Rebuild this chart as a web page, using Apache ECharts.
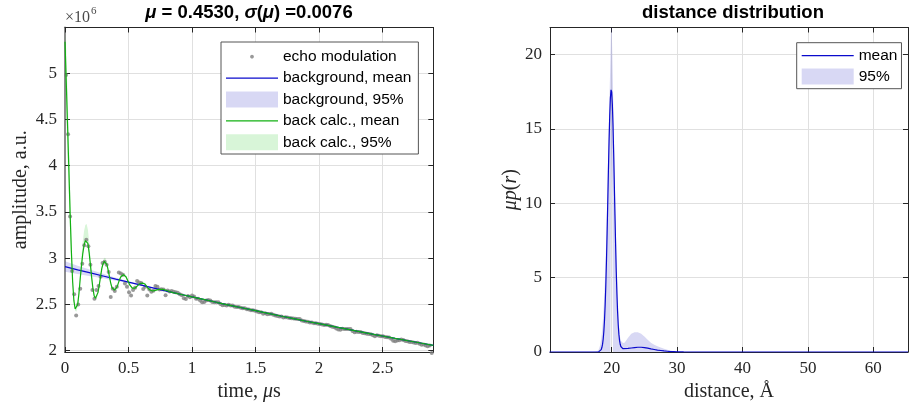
<!DOCTYPE html>
<html><head><meta charset="utf-8">
<script src="https://cdn.jsdelivr.net/npm/echarts@6/dist/echarts.min.js"></script>
<style>html,body{margin:0;padding:0;background:#fff}#c{width:909px;height:407px}</style>
</head><body><div id="c"></div>
<script>
// ---------- left panel: echo modulation (values in 1e6 a.u.) ----------
const dotT = [0.008,0.024,0.040,0.056,0.072,0.088,0.104,0.120,0.136,0.152,0.168,0.184,0.200,0.216,0.232,0.248,0.264,0.280,0.296,0.312,0.328,0.344,0.360,0.376,0.392,0.408,0.424,0.440,0.456,0.472,0.488,0.504,0.520,0.536,0.552,0.568,0.584,0.600,0.616,0.632,0.648,0.664,0.680,0.696,0.712,0.728,0.744,0.760,0.776,0.792,0.808,0.824,0.840,0.856,0.872,0.888,0.904,0.920,0.936,0.952,0.968,0.984,1.000,1.016,1.032,1.048,1.064,1.080,1.096,1.112,1.128,1.144,1.160,1.176,1.192,1.208,1.224,1.240,1.256,1.272,1.288,1.304,1.320,1.336,1.352,1.368,1.384,1.400,1.416,1.432,1.448,1.464,1.480,1.496,1.512,1.528,1.544,1.560,1.576,1.592,1.608,1.624,1.640,1.656,1.672,1.688,1.704,1.720,1.736,1.752,1.768,1.784,1.800,1.816,1.832,1.848,1.864,1.880,1.896,1.912,1.928,1.944,1.960,1.976,1.992,2.008,2.024,2.040,2.056,2.072,2.088,2.104,2.120,2.136,2.152,2.168,2.184,2.200,2.216,2.232,2.248,2.264,2.280,2.296,2.312,2.328,2.344,2.360,2.376,2.392,2.408,2.424,2.440,2.456,2.472,2.488,2.504,2.520,2.536,2.552,2.568,2.584,2.600,2.616,2.632,2.648,2.664,2.680,2.696,2.712,2.728,2.744,2.760,2.776,2.792,2.808,2.824,2.840,2.856,2.872,2.888];
const dotV = [4.98,4.34,3.45,2.86,2.61,2.38,2.50,2.67,2.94,3.14,
3.20,3.13,2.93,2.655,2.56,2.655,2.70,2.80,2.949,2.96,
2.93,2.85,2.58,2.67,2.644,2.69,2.845,2.834,2.82,2.727,
2.69,2.63,2.595,2.655,2.68,2.752,2.737,2.73,2.666,2.69,
2.595,2.66,2.637,2.648,2.70,2.69,2.662,2.665,2.66,2.60,
2.65,2.64,2.644,2.637,2.63,2.627,2.609,2.60,2.566,2.558,
2.59,2.576,2.595,2.586,2.561,2.562,2.542,2.523,2.527,2.542,
2.548,2.542,2.527,2.523,2.522,2.523,2.503,2.49,2.493,2.487,
2.497,2.487,2.488,2.474,2.471,2.472,2.464,2.458,2.458,2.448,
2.444,2.436,2.436,2.43,2.423,2.416,2.415,2.40,2.404,2.394,
2.397,2.398,2.387,2.379,2.375,2.37,2.37,2.359,2.36,2.358,
2.352,2.35,2.348,2.346,2.343,2.343,2.327,2.32,2.314,2.312,
2.305,2.305,2.297,2.295,2.29,2.288,2.282,2.278,2.28,2.278,
2.266,2.258,2.253,2.238,2.228,2.226,2.237,2.235,2.235,2.234,
2.234,2.212,2.198,2.205,2.2,2.2,2.191,2.188,2.182,2.18,
2.178,2.165,2.155,2.165,2.162,2.155,2.155,2.148,2.145,2.142,
2.128,2.106,2.10,2.11,2.112,2.12,2.114,2.105,2.10,2.093,
2.094,2.088,2.082,2.084,2.074,2.064,2.066,2.054,2.047,2.054,1.975];

const bgT  = [0,0.1,0.2,0.3,0.4,0.5,0.6,0.7,0.8,0.9,1.0,1.1,1.2,1.3,1.4,1.5,1.6,1.7,1.8,1.9,2.0,2.1,2.2,2.3,2.4,2.5,2.6,2.7,2.8,2.9];
const bgV  = [2.909,2.874,2.840,2.807,2.773,2.740,2.708,2.676,2.644,2.612,2.581,2.551,2.520,2.490,2.461,2.432,2.403,2.374,2.346,2.318,2.291,2.264,2.237,2.210,2.184,2.158,2.132,2.107,2.082,2.057];
const bgHi = [2.966,2.919,2.875,2.832,2.789,2.750,2.714,2.680,2.647,2.615,2.584,2.554,2.523,2.493,2.464,2.435,2.406,2.377,2.349,2.321,2.294,2.267,2.240,2.213,2.187,2.161,2.135,2.110,2.085,2.060];
const bgLo = [2.852,2.829,2.805,2.782,2.757,2.730,2.702,2.672,2.641,2.609,2.578,2.548,2.517,2.487,2.458,2.429,2.400,2.371,2.343,2.315,2.288,2.261,2.234,2.207,2.181,2.155,2.129,2.104,2.079,2.054];

const fitT = [0,0.01,0.02,0.03,0.04,0.05,0.06,0.07,0.08,0.09,0.10,0.11,0.12,0.13,0.14,0.15,0.16,0.17,0.18,0.19,0.20,0.21,0.22,0.23,0.24,0.25,0.26,0.27,0.28,0.29,0.30,0.31,0.32,0.33,0.34,0.35,0.36,0.37,0.38,0.39,0.40,0.41,0.42,0.43,0.44,0.45,0.46,0.47,0.48,0.49,0.50,0.51,0.52,0.53,0.54,0.55,0.56,0.57,0.58,0.59,0.60,0.61,0.62,0.63,0.64,0.65,0.66,0.67,0.68,0.69,0.70,0.71,0.72,0.73,0.74,0.75,0.76,0.77,0.78,0.79,0.80,0.81,0.82,0.83,0.84,0.85,0.86,0.87,0.88,0.89,0.90,1.0,1.1,1.2,1.3,1.4,1.5,1.6,1.7,1.8,1.9,2.0,2.1,2.2,2.3,2.4,2.5,2.6,2.7,2.8,2.9];
const fitV = [5.34,4.90,4.44,3.98,3.50,3.08,2.75,2.54,2.45,2.44,
2.50,2.62,2.78,2.92,3.05,3.14,3.19,3.20,3.16,3.06,
2.93,2.79,2.67,2.59,2.566,2.58,2.63,2.71,2.80,2.89,
2.94,2.965,2.96,2.93,2.87,2.80,2.73,2.68,2.66,2.655,
2.66,2.69,2.73,2.77,2.80,2.815,2.82,2.816,2.80,2.77,
2.74,2.71,2.69,2.675,2.673,2.675,2.685,2.70,2.715,2.725,
2.73,2.73,2.727,2.72,2.70,2.68,2.665,2.655,2.648,2.645,
2.648,2.652,2.656,2.66,2.662,2.664,2.665,2.663,2.66,2.655,
2.65,2.645,2.64,2.635,2.63,2.627,2.624,2.621,2.618,2.615,2.612,
2.581,2.551,2.520,2.490,2.461,2.432,2.403,2.374,2.346,2.318,2.291,2.264,2.237,2.210,2.184,2.158,2.132,2.107,2.082,2.057];
const fitHi = [5.42,5.25,4.79,4.33,3.78,3.24,2.82,2.57,2.47,2.46,
2.52,2.66,2.85,3.02,3.18,3.29,3.36,3.37,3.31,3.18,
3.01,2.84,2.70,2.61,2.586,2.60,2.65,2.73,2.83,2.92,
2.98,3.005,3.00,2.96,2.89,2.82,2.745,2.695,2.675,2.67,
2.675,2.705,2.745,2.785,2.815,2.83,2.835,2.831,2.815,2.785,
2.75,2.72,2.70,2.685,2.683,2.685,2.695,2.71,2.725,2.735,
2.74,2.74,2.737,2.73,2.71,2.69,2.675,2.665,2.658,2.655,
2.658,2.662,2.666,2.67,2.672,2.674,2.675,2.673,2.67,2.665,
2.66,2.655,2.65,2.645,2.64,2.637,2.634,2.631,2.628,2.625,2.622,
2.586,2.556,2.525,2.495,2.466,2.437,2.408,2.379,2.351,2.323,2.296,2.269,2.242,2.215,2.189,2.163,2.137,2.112,2.087,2.062];
const fitLo = [4.99,4.55,4.09,3.68,3.28,2.96,2.70,2.51,2.43,2.42,
2.48,2.60,2.76,2.90,3.03,3.12,3.17,3.18,3.14,3.04,
2.91,2.77,2.65,2.57,2.546,2.56,2.61,2.69,2.78,2.87,
2.92,2.945,2.94,2.91,2.85,2.78,2.715,2.665,2.645,2.64,
2.645,2.675,2.715,2.755,2.785,2.80,2.805,2.801,2.785,2.755,
2.73,2.70,2.68,2.665,2.663,2.665,2.675,2.69,2.705,2.715,
2.72,2.72,2.717,2.71,2.69,2.67,2.655,2.645,2.638,2.635,
2.638,2.642,2.646,2.65,2.652,2.654,2.655,2.653,2.65,2.645,
2.64,2.635,2.63,2.625,2.62,2.617,2.614,2.611,2.608,2.605,2.602,
2.576,2.546,2.515,2.485,2.456,2.427,2.398,2.369,2.341,2.313,2.286,2.259,2.232,2.205,2.179,2.153,2.127,2.102,2.077,2.052];

// ---------- right panel: distance distribution ----------
const rDist = [10.5,12,14,16,17,17.5,17.8,
18.0,18.1,18.2,18.3,18.4,18.5,18.6,18.7,18.8,18.9,
19.0,19.1,19.2,19.3,19.4,19.5,19.6,19.7,19.8,19.9,
20.0,20.1,20.2,20.3,20.4,20.5,20.6,20.7,20.8,20.9,
21.0,21.1,21.2,21.3,21.4,21.5,21.6,21.7,21.8,
22.0,22.5,23.0,23.5,24.0,24.5,25.0,25.5,26.0,26.5,27.0,27.5,28.0,28.5,29.0,29.5,30.0,
31,32,35,40,45,50,55,60,65.3];
const pMean = [0,0,0,0,0,0.001,0.004,
0.009,0.022,0.044,0.087,0.16,0.30,0.51,0.86,1.38,2.12,
3.13,4.45,6.08,7.98,10.07,12.20,14.20,15.89,17.07,17.63,
17.49,16.67,15.26,13.43,11.35,9.22,7.20,5.40,3.91,2.72,
1.83,1.20,0.78,0.52,0.37,0.29,0.25,0.23,0.22,
0.22,0.24,0.27,0.30,0.32,0.32,0.30,0.26,0.21,0.17,0.13,0.10,0.07,0.05,0.03,0.02,0.01,
0.003,0,0,0,0,0,0,0,0];
const pHi = [0,0,0,0,0,0.01,0.05,
0.15,0.25,0.4,0.6,0.9,1.3,1.8,2.4,3.2,4.1,
5.2,6.6,8.2,10.0,12.0,14.0,16.0,17.8,19.6,21.8,
21.8,20.0,17.8,15.6,13.3,11.0,8.9,7.0,5.3,3.9,
2.8,1.9,1.3,0.95,0.78,0.7,0.65,0.62,0.61,
0.64,0.95,1.22,1.33,1.32,1.22,1.04,0.82,0.62,0.48,0.38,0.3,0.22,0.15,0.1,0.05,0.02,
0.005,0,0,0,0,0,0,0,0];
const pLo = [0,0,0,0,0,0,0,
0,0,0,0,0,0,0,0,0,0,
0,0,0,0,0,0,0,0,0,11,
13.6,10,0,0,0,0,0,0,0,0,
0,0,0,0,0,0,0,0,0,
0,0,0,0,0,0,0,0,0,0,0,0,0,0,0,0,0,
0,0,0,0,0,0,0,0,0];

// ---------- styles ----------
const SERIF = '"Liberation Serif","DejaVu Serif",serif';
const SANS = '"Liberation Sans",Arial,sans-serif';
const AX = '#262626', GRIDC = '#e0e0e0';
const BLUE = '#0a0acc', GREEN = '#12b012', GRAY = '#808080';
const BLUEBAND = 'rgba(60,60,200,0.2)', GREENBAND = 'rgba(40,200,40,0.18)';
const LINE_ICON = 'path://M0,0M52,0M52,16M0,16M0,7.4L52,7.4L52,8.6L0,8.6Z';
const DOT_ICON = 'path://M0,0M52,0M52,16M0,16M26,6L27.4,6.6L28,8L27.4,9.4L26,10L24.6,9.4L24,8L24.6,6.6Z';

const zip = (a, b) => a.map((v, i) => [v, b[i]]);

function band(name, xs, lo, hi, color, ai) {
  return {
    name, type: 'custom', xAxisIndex: ai, yAxisIndex: ai, clip: true, silent: true,
    itemStyle: { color },
    data: xs.map((x, i) => [x, lo[i], hi[i]]),
    encode: { x: 0, y: [1, 2] },
    renderItem(params, api) {
      if (params.dataIndex !== 0) return null;
      const pts = [];
      for (let i = 0; i < xs.length; i++) pts.push(api.coord([xs[i], hi[i]]));
      for (let i = xs.length - 1; i >= 0; i--) pts.push(api.coord([xs[i], lo[i]]));
      return { type: 'polygon', shape: { points: pts }, style: { fill: color } };
    }
  };
}

const labelStyle = { fontFamily: SERIF, fontSize: 17, color: AX };
const nameStyle = { fontFamily: SERIF, fontSize: 20, color: AX,
  rich: { i: { fontFamily: SERIF, fontSize: 20, fontStyle: 'italic', color: AX } } };

function mainX(grid, min, max, step, name) {
  return { gridIndex: grid, type: 'value', min, max, minInterval: step, maxInterval: step, splitNumber: 6,
    position: 'bottom',
    axisLine: { show: true, onZero: false, lineStyle: { color: AX, width: 1 } },
    axisTick: { show: true, inside: true, length: 5, lineStyle: { color: AX } },
    axisLabel: Object.assign({ margin: 8, showMinLabel: min === 0, showMaxLabel: false }, labelStyle),
    splitLine: { show: true, lineStyle: { color: GRIDC, width: 1 } },
    name, nameLocation: 'middle', nameGap: 30, nameTextStyle: nameStyle };
}
function mirrorX(grid, min, max, step) {
  return { gridIndex: grid, type: 'value', min, max, minInterval: step, maxInterval: step, splitNumber: 6,
    position: 'top',
    axisLine: { show: true, onZero: false, lineStyle: { color: AX } },
    axisTick: { show: true, inside: true, length: 5, lineStyle: { color: AX } },
    axisLabel: { show: false }, splitLine: { show: false } };
}
function mainY(grid, min, max, step, name, gap, lineColor, lineWidth) {
  return { gridIndex: grid, type: 'value', min, max, minInterval: step, maxInterval: step, splitNumber: 7,
    position: 'left',
    axisLine: { show: true, onZero: false, lineStyle: { color: lineColor, width: lineWidth } },
    axisTick: { show: true, inside: true, length: 5, lineStyle: { color: AX } },
    axisLabel: Object.assign({ margin: 8, showMinLabel: min === 0, showMaxLabel: false }, labelStyle),
    splitLine: { show: true, lineStyle: { color: GRIDC, width: 1 } },
    name, nameLocation: 'middle', nameGap: gap, nameTextStyle: nameStyle };
}
function mirrorY(grid, min, max, step) {
  return { gridIndex: grid, type: 'value', min, max, minInterval: step, maxInterval: step, splitNumber: 7,
    position: 'right',
    axisLine: { show: true, onZero: false, lineStyle: { color: AX } },
    axisTick: { show: true, inside: true, length: 5, lineStyle: { color: AX } },
    axisLabel: { show: false }, splitLine: { show: false } };
}

const legendText = { fontFamily: SANS, fontSize: 15.5, color: '#000' };
const titleStyle = { fontFamily: SANS, fontSize: 18.5, fontWeight: 'bold', color: '#000' };
const chart = echarts.init(document.getElementById('c'), null, { renderer: 'canvas' });
chart.setOption({
  animation: false,
  backgroundColor: '#fff',
  title: [
    { text: '{m|μ} = 0.4530, {m|σ}({m|μ}) =0.0076', left: 249, top: 3, textAlign: 'center', padding: 0,
      textStyle: Object.assign({ rich: { m: Object.assign({ fontStyle: 'italic' }, titleStyle) } }, titleStyle) },
    { text: 'distance distribution', left: 733, top: 3, textAlign: 'center', padding: 0, textStyle: titleStyle }
  ],
  graphic: [
    { type: 'text', left: 65, top: 10, style: { text: '×10', font: '16px ' + SERIF, fill: '#4a4a4a' } },
    { type: 'text', left: 91, top: 6, style: { text: '6', font: '11px ' + SERIF, fill: '#4a4a4a' } }
  ],
  grid: [
    { left: 65, top: 27.5, width: 368.3, height: 326 },
    { left: 550, top: 27.5, width: 358, height: 326.5 }
  ],
  xAxis: [
    mainX(0, 0, 2.9, 0.5, 'time, {i|μ}s'),
    mirrorX(0, 0, 2.9, 0.5),
    mainX(1, 10.57, 65.3, 10, 'distance, Å'),
    mirrorX(1, 10.57, 65.3, 10)
  ],
  yAxis: [
    mainY(0, 1.985, 5.495, 0.5, 'amplitude, a.u.', 34, '#8c8c8c', 2),
    mirrorY(0, 1.985, 5.495, 0.5),
    mainY(1, 0, 21.82, 5, '{i|μp}({i|r})', 28, AX, 1),
    mirrorY(1, 0, 21.82, 5)
  ],
  legend: [
    { left: 221, top: 42, orient: 'vertical', padding: [6.7, 7, 3.7, 5],
      itemWidth: 52, itemHeight: 16, itemGap: 5.4, selectedMode: false,
      borderColor: '#555', borderWidth: 1, backgroundColor: '#fff', textStyle: legendText,
      data: [
        { name: 'echo modulation', icon: DOT_ICON, itemStyle: { color: GRAY, borderWidth: 0 } },
        { name: 'background, mean', icon: LINE_ICON, itemStyle: { color: BLUE, borderWidth: 0 } },
        { name: 'background, 95%', icon: 'rect', itemStyle: { color: BLUEBAND, borderWidth: 0 } },
        { name: 'back calc., mean', icon: LINE_ICON, itemStyle: { color: GREEN, borderWidth: 0 } },
        { name: 'back calc., 95%', icon: 'rect', itemStyle: { color: GREENBAND, borderWidth: 0 } }
      ] },
    { left: 796.7, top: 42.7, orient: 'vertical', padding: [5, 4, 4.2, 5],
      itemWidth: 52, itemHeight: 16, itemGap: 4.8, selectedMode: false,
      borderColor: '#555', borderWidth: 1, backgroundColor: '#fff', textStyle: legendText,
      data: [
        { name: 'mean', icon: LINE_ICON, itemStyle: { color: BLUE, borderWidth: 0 } },
        { name: '95%', icon: 'rect', itemStyle: { color: BLUEBAND, borderWidth: 0 } }
      ] }
  ],
  series: [
    band('background, 95%', bgT, bgLo, bgHi, BLUEBAND, 0),
    band('back calc., 95%', fitT, fitLo, fitHi, GREENBAND, 0),
    { name: 'echo modulation', type: 'scatter', xAxisIndex: 0, yAxisIndex: 0, clip: false,
      symbol: 'circle', symbolSize: 4, itemStyle: { color: GRAY }, data: zip(dotT, dotV) },
    { name: 'background, mean', type: 'line', xAxisIndex: 0, yAxisIndex: 0, symbol: 'none', showSymbol: false,
      lineStyle: { color: BLUE, width: 1.2 }, itemStyle: { color: BLUE }, data: zip(bgT, bgV) },
    { name: 'back calc., mean', type: 'line', xAxisIndex: 0, yAxisIndex: 0, symbol: 'none', showSymbol: false,
      lineStyle: { color: GREEN, width: 1.2 }, itemStyle: { color: GREEN }, data: zip(fitT, fitV) },
    band('95%', rDist, pLo, pHi, BLUEBAND, 2),
    { name: 'mean', type: 'line', xAxisIndex: 2, yAxisIndex: 2, symbol: 'none', showSymbol: false,
      lineStyle: { color: BLUE, width: 1.2 }, itemStyle: { color: BLUE }, data: zip(rDist, pMean) }
  ]
});
</script></body></html>
